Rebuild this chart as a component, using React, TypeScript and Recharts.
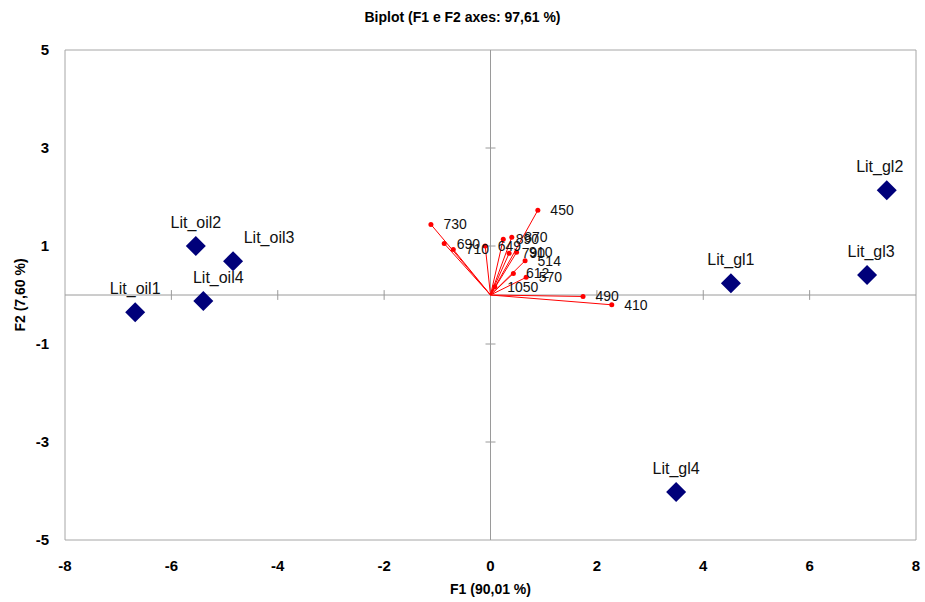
import React from "react";
import {
  ScatterChart,
  Scatter,
  XAxis,
  YAxis,
  ReferenceLine,
  ReferenceArea,
  LabelList,
  Label,
} from "recharts";

const xTicks = [-8, -6, -4, -2, 0, 2, 4, 6, 8];
const yTicks = [-5, -3, -1, 1, 3, 5];

// observations (F1, F2)
const obsNames = ["Lit_oil1", "Lit_oil2", "Lit_oil3", "Lit_oil4", "Lit_gl1", "Lit_gl2", "Lit_gl3", "Lit_gl4"];
const obsF1 = [-6.68, -5.54, -4.84, -5.4, 4.52, 7.45, 7.08, 3.49];
const obsF2 = [-0.35, 1.0, 0.69, -0.12, 0.24, 2.14, 0.41, -4.02];

// variables (wavelengths)
const varNames = ["730", "690", "710", "649", "890", "870", "790", "910", "514", "612", "570", "1050", "450", "490", "410"];
const varF1 = [-1.12, -0.87, -0.7, -0.1, 0.24, 0.4, 0.35, 0.49, 0.65, 0.43, 0.67, 0.08, 0.89, 1.74, 2.28];
const varF2 = [1.44, 1.05, 0.93, 1.0, 1.14, 1.18, 0.85, 0.87, 0.7, 0.44, 0.36, 0.17, 1.73, -0.03, -0.2];

const observations = obsNames.map((name, i) => ({ name, x: obsF1[i], y: obsF2[i] }));
const variables = varNames.map((name, i) => ({ name, x: varF1[i], y: varF2[i] }));

// label nudges where the original moved labels off the marker
const labelDx: Record<string, number> = { Lit_oil3: 36, Lit_oil4: 15, Lit_gl2: -7, Lit_gl3: 4 };

const FONT = "'Liberation Sans', Arial, sans-serif";
const AXIS_GRAY = "#9a9a9a";

const Diamond = (props: any) => {
  const { cx, cy, payload } = props;
  const r = 10;
  const dx = labelDx[payload.name] ?? 0;
  return (
    <g>
      <polygon
        points={`${cx},${cy - r} ${cx + r},${cy} ${cx},${cy + r} ${cx - r},${cy}`}
        fill="#00007a"
      />
      <text
        x={cx + dx}
        y={cy - 18}
        textAnchor="middle"
        fontSize={16}
        fontFamily={FONT}
        fill="#111"
      >
        {payload.name}
      </text>
    </g>
  );
};

const Dot = (props: any) => <circle cx={props.cx} cy={props.cy} r={2.5} fill="#ff0000" />;

export default function App() {
  const tickStyle = { fontSize: 15, fontWeight: 700, fill: "#000", fontFamily: FONT };
  return (
    <div style={{ position: "absolute", left: 0, top: 0, width: 925, height: 602, background: "#fff" }}>
      <div
        style={{
          position: "absolute",
          top: 9,
          width: 925,
          textAlign: "center",
          fontFamily: FONT,
          fontWeight: 700,
          fontSize: 14,
        }}
      >
        Biplot (F1 e F2 axes: 97,61 %)
      </div>
      <ScatterChart width={925} height={602} margin={{ top: 50, right: 9, bottom: 20, left: 10 }}>
        <XAxis
          type="number"
          dataKey="x"
          domain={[-8, 8]}
          ticks={xTicks}
          axisLine={false}
          tickLine={false}
          tickMargin={14}
          tick={tickStyle}
          height={42}
          allowDataOverflow
        >
          <Label
            value="F1 (90,01 %)"
            position="insideBottom"
            offset={-12}
            style={{ fontSize: 14, fontWeight: 700, fill: "#000", fontFamily: FONT }}
          />
        </XAxis>
        <YAxis
          type="number"
          dataKey="y"
          domain={[-5, 5]}
          ticks={yTicks}
          axisLine={false}
          tickLine={false}
          tickMargin={10}
          tick={tickStyle}
          width={55}
          allowDataOverflow
        >
          <Label
            value="F2 (7,60 %)"
            angle={-90}
            position="insideLeft"
            offset={10}
            style={{ textAnchor: "middle", fontSize: 14, fontWeight: 700, fill: "#000", fontFamily: FONT }}
          />
        </YAxis>
        <ReferenceArea x1={-8} x2={8} y1={-5} y2={5} fill="none" stroke="#a6a6a6" strokeWidth={1} />
        <ReferenceLine x={0} stroke={AXIS_GRAY} />
        <ReferenceLine y={0} stroke={AXIS_GRAY} />
        {xTicks
          .filter((t) => t !== 0 && Math.abs(t) !== 8)
          .map((t) => (
            <ReferenceLine
              key={`xt${t}`}
              segment={[
                { x: t, y: -0.1 },
                { x: t, y: 0.1 },
              ]}
              stroke={AXIS_GRAY}
            />
          ))}
        {yTicks
          .filter((t) => Math.abs(t) !== 5)
          .map((t) => (
            <ReferenceLine
              key={`yt${t}`}
              segment={[
                { x: -0.094, y: t },
                { x: 0.094, y: t },
              ]}
              stroke={AXIS_GRAY}
            />
          ))}
        {variables.map((v) => (
          <ReferenceLine
            key={`v${v.name}`}
            segment={[
              { x: 0, y: 0 },
              { x: v.x, y: v.y },
            ]}
            stroke="#ff0000"
            strokeWidth={1}
          />
        ))}
        <Scatter data={variables} shape={Dot} isAnimationActive={false}>
          <LabelList
            dataKey="name"
            position="right"
            offset={8}
            style={{ fontSize: 14, fill: "#111", fontFamily: FONT }}
          />
        </Scatter>
        <Scatter data={observations} shape={Diamond} isAnimationActive={false} />
      </ScatterChart>
    </div>
  );
}
